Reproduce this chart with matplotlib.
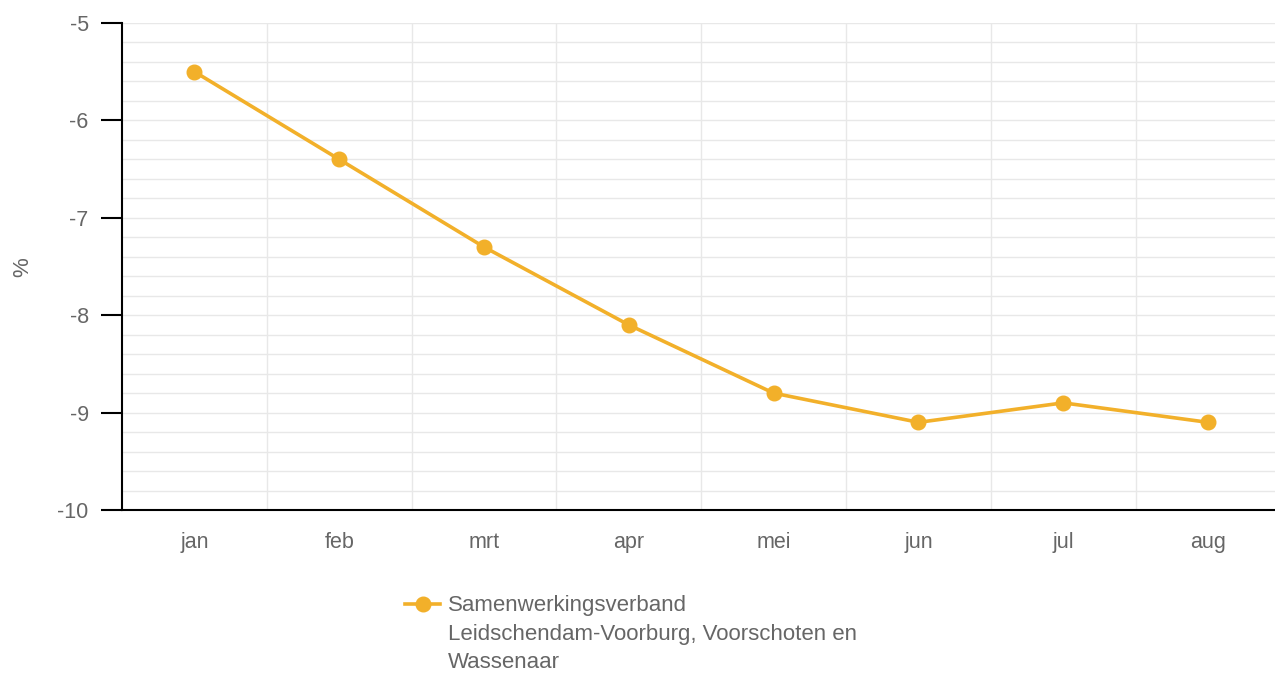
import matplotlib.pyplot as plt
import numpy as np
from matplotlib.lines import Line2D
from matplotlib.ticker import MultipleLocator

months = ["jan", "feb", "mrt", "apr", "mei", "jun", "jul", "aug"]
values = [-5.5, -6.4, -7.3, -8.1, -8.8, -9.1, -8.9, -9.1]
series_name = "Samenwerkingsverband\nLeidschendam-Voorburg, Voorschoten en\nWassenaar"
y_ticks = [-10, -9, -8, -7, -6, -5]

color = "#f2b02a"
text_gray = "#666666"

plt.rcParams['font.family'] = ['Liberation Sans', 'DejaVu Sans']

W, H = 1275, 673
fig = plt.figure(figsize=(W / 100, H / 100), dpi=100)
ax = fig.add_axes([122 / W, 1 - 510 / H, (1280.5 - 122) / W, 487 / H])

x = np.arange(len(months))
ax.plot(x, values, color=color, lw=2.6, marker="o", markersize=10.5,
        zorder=3, clip_on=False)

ax.set_xlim(-0.5, len(months) - 0.5)
ax.set_ylim(-10, -5)
ax.set_yticks(y_ticks)
ax.set_yticklabels([str(v) for v in y_ticks])
ax.yaxis.set_minor_locator(MultipleLocator(0.2))
ax.set_xticks(x)
ax.set_xticklabels(months)
ax.set_xticks(x[:-1] + 0.5, minor=True)

ax.grid(True, which="both", axis="y", color="#e8e8e8", lw=1)
ax.grid(True, which="minor", axis="x", color="#e8e8e8", lw=1)
ax.set_axisbelow(True)

for side in ["top", "right"]:
    ax.spines[side].set_visible(False)
for side in ["left", "bottom"]:
    ax.spines[side].set_color("black")
    ax.spines[side].set_linewidth(1.5)

ax.tick_params(axis="y", which="major", length=15, width=1.5, color="black",
               labelsize=15.5, labelcolor=text_gray, pad=9)
ax.tick_params(axis="y", which="minor", length=0)
ax.tick_params(axis="x", which="both", length=0, labelsize=15.5, labelcolor=text_gray, pad=16)

fig.text(23 / W, 1 - 267 / H, "%", rotation=90, ha="center", va="center",
         fontsize=16, color=text_gray)

# legend: handle next to the first line of the series name
handle = Line2D([405 / W, 440 / W], [1 - 604 / H, 1 - 604 / H], transform=fig.transFigure,
                color=color, lw=2.6)
dot = Line2D([422.5 / W], [1 - 604 / H], transform=fig.transFigure, color=color,
             marker="o", markersize=10.5, lw=0)
fig.add_artist(handle)
fig.add_artist(dot)
fig.text(448 / W, 1 - 595 / H, series_name, ha="left", va="top", fontsize=16,
         color=text_gray, linespacing=1.48)

fig.savefig("out.png", dpi=100)
